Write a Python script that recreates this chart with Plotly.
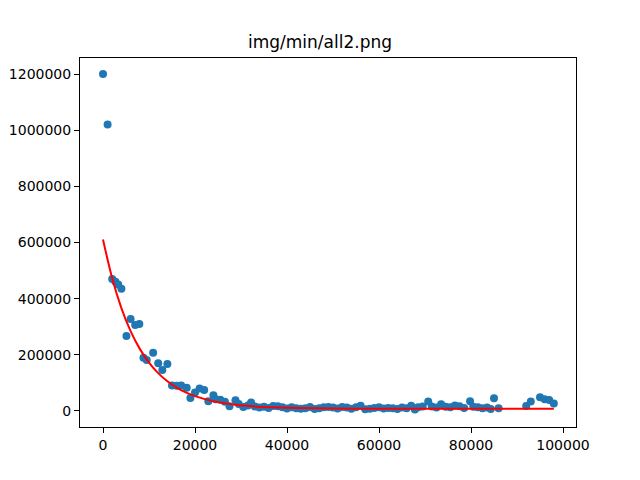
import plotly.graph_objects as go

x_data = [0, 1000, 2000, 2700, 3300, 4000, 5100, 6000, 7000, 7900, 8800, 9500, 10900, 12000,
          12900, 14000, 15000, 16000, 17000, 18200, 19000, 20000, 21000, 22000, 22900, 24000,
          24500, 25500, 26500, 27500, 28800, 29500, 30500, 31500, 32200, 33000, 34000, 35000,
          36000, 37000, 38000, 39000, 40000, 41000, 42000, 43000, 44000, 45000, 46000, 47000,
          48000, 49000, 50000, 51000, 52000, 53000, 54000, 55000, 56000, 57000, 58000, 59000,
          60000, 61000, 62000, 63000, 64000, 65000, 66000, 67000, 67800, 68500, 69500, 70700,
          71500, 72500, 73500, 74500, 75500, 76500, 77500, 78500, 79800, 80500, 81500, 82500,
          83500, 84300, 85000, 86000, 92000, 93000, 95000, 96000, 97000, 98000]
y_data = [1200000, 1020000, 470000, 460000, 450000, 435000, 267000, 328000, 306000, 310000,
          190000, 182000, 207000, 170000, 146000, 167000, 91000, 90000, 91000, 83000, 46000,
          66000, 80000, 75000, 35000, 56000, 42000, 40000, 33000, 17000, 38000, 25000, 14000,
          20000, 30000, 16000, 12000, 15000, 11000, 18000, 17000, 13000, 9000, 13000, 10000, 8000,
          10000, 14000, 7000, 10000, 13000, 14000, 12000, 9000, 14000, 12000, 8000, 13000, 19000,
          6000, 8000, 11000, 13000, 9000, 11000, 10000, 7000, 12000, 10000, 19000, 5000, 13000,
          16000, 34000, 16000, 12000, 24000, 15000, 13000, 20000, 17000, 11000, 35000, 15000,
          13000, 10000, 12000, 7000, 45000, 10000, 18000, 34000, 49000, 42000, 39000, 27000]

fit_x = [0, 2000, 4000, 6000, 8000, 10000, 12000, 14000, 16000, 18000, 20000, 24000, 28000,
         32000, 36000, 40000, 50000, 60000, 70000, 80000, 90000, 98000]
fit_y = [611000, 473000, 366500, 284400, 221200, 172300, 134700, 105700, 83300, 66100, 52800,
         34600, 23800, 17400, 13600, 11300, 8900, 8200, 8050, 8000, 8000, 8000]

x_ticks = [0, 20000, 40000, 60000, 80000, 100000]
y_ticks = [0, 200000, 400000, 600000, 800000, 1000000, 1200000]

fig = go.Figure()
fig.add_trace(go.Scatter(x=x_data, y=y_data, mode="markers",
                         marker=dict(color="#1f77b4", size=8, line=dict(width=0)),
                         showlegend=False))
fig.add_trace(go.Scatter(x=fit_x, y=fit_y, mode="lines",
                         line=dict(color="red", width=2, shape="spline"),
                         showlegend=False))

axis_common = dict(showline=True, mirror=True, linecolor="black", linewidth=1,
                   showgrid=False, zeroline=False, ticks="outside", ticklen=5,
                   tickcolor="black", automargin=False,
                   tickfont=dict(family="DejaVu Sans", size=14, color="black"))

fig.update_layout(
    width=640, height=480, autosize=False,
    margin=dict(l=80, r=64, t=58, b=53),
    paper_bgcolor="white", plot_bgcolor="white",
    title=dict(text="img/min/all2.png", x=0.5, xanchor="center",
               y=1 - 42 / 480, yanchor="middle", yref="container", automargin=False,
               font=dict(family="DejaVu Sans", size=17, color="black")),
    xaxis=dict(range=[-5000, 102826], tickvals=x_ticks,
               ticktext=[str(v) for v in x_ticks], **axis_common),
    yaxis=dict(range=[-57000, 1257000], tickvals=y_ticks,
               ticktext=[str(v) for v in y_ticks], **axis_common),
)

fig.write_html("out.html")
